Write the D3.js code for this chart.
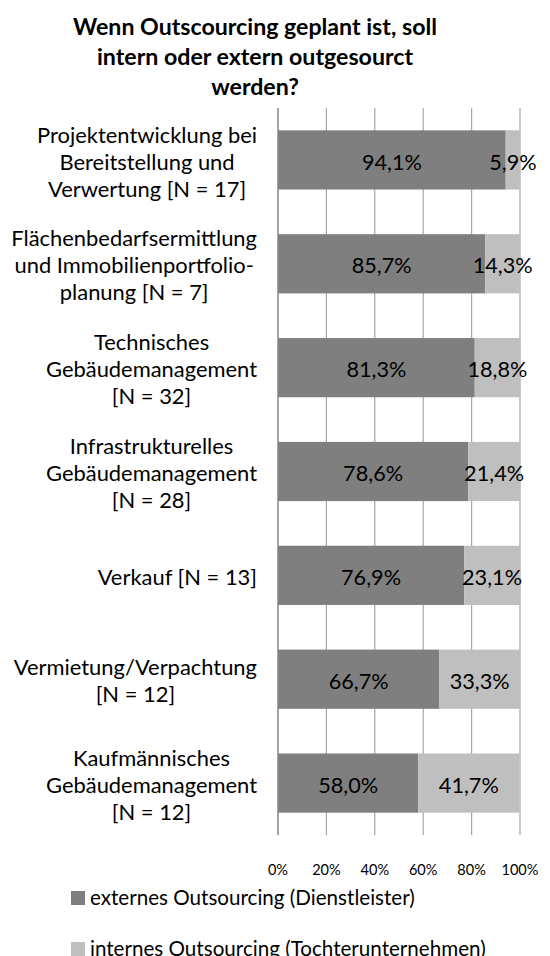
<!DOCTYPE html>
<html>
<head>
<meta charset="utf-8">
<script src="https://cdn.jsdelivr.net/npm/d3@7"></script>
<style>
  html, body { margin: 0; padding: 0; background: #fff; }
  svg { display: block; }
  text { font-family: Lato, "Open Sans", sans-serif; fill: #000; }
</style>
</head>
<body>
<svg id="chart" width="550" height="956"></svg>
<script>
// ---- data ----
const titleLines = ["Wenn Outscourcing geplant ist, soll", "intern oder extern outgesourct", "werden?"];
const categories = [
  "Projektentwicklung bei\nBereitstellung und\nVerwertung [N = 17]",
  "Flächenbedarfsermittlung\nund Immobilienportfolio-\nplanung [N = 7]",
  "Technisches\nGebäudemanagement\n[N = 32]",
  "Infrastrukturelles\nGebäudemanagement\n[N = 28]",
  "Verkauf [N = 13]",
  "Vermietung/Verpachtung\n[N = 12]",
  "Kaufmännisches\nGebäudemanagement\n[N = 12]"
];
const externalValues = [94.1, 85.7, 81.3, 78.6, 76.9, 66.7, 58.0];
const internalValues = [5.9, 14.3, 18.8, 21.4, 23.1, 33.3, 41.7];
const tickValues = [0, 20, 40, 60, 80, 100];
const seriesNames = ["externes Outsourcing (Dienstleister)", "internes Outsourcing (Tochterunternehmen)"];
const seriesColors = ["#7f7f7f", "#bfbfbf"];

// ---- setup ----
const svg = d3.select("#chart");
const fmt = v => v.toFixed(1).replace(".", ",") + "%";

// fit a font size so a reference string reaches a measured width
function fitSize(str, target, weight) {
  const t = svg.append("text").attr("font-size", 100).attr("font-weight", weight || "normal").text(str);
  const w = t.node().getComputedTextLength();
  t.remove();
  return 100 * target / w;
}
const catSize = fitSize("Gebäudemanagement", 211);
const valSize = fitSize("94,1%", 60);
const tickSize = fitSize("100%", 37);
const legSize = fitSize(seriesNames[0], 325);
const titleSize = fitSize(titleLines[0], 364, "bold");

const x = d3.scaleLinear().domain([0, 100]).range([278, 520]);
const y = d3.scaleBand().domain(categories).range([108, 835]).paddingInner(0.43).paddingOuter(0.215);

// ---- title ----
svg.append("g").selectAll("text").data(titleLines).join("text")
  .attr("x", 255).attr("y", (d, i) => 35 + i * 30)
  .attr("text-anchor", "middle")
  .attr("font-weight", "bold")
  .attr("font-size", titleSize)
  .text(d => d);

// ---- gridlines ----
svg.append("g").selectAll("line").data(tickValues.slice(1)).join("line")
  .attr("x1", d => x(d)).attr("x2", d => x(d))
  .attr("y1", 108).attr("y2", 835)
  .attr("stroke", "#a6a6a6").attr("stroke-width", 1.2);

// ---- bars ----
const rows = categories.map((c, i) => ({ c, ext: externalValues[i], int: internalValues[i] }));
const gBars = svg.append("g");
gBars.selectAll("rect.ext").data(rows).join("rect").attr("class", "ext")
  .attr("x", x(0)).attr("y", d => y(d.c))
  .attr("width", d => x(d.ext) - x(0)).attr("height", y.bandwidth())
  .attr("fill", seriesColors[0]);
gBars.selectAll("rect.int").data(rows).join("rect").attr("class", "int")
  .attr("x", d => x(d.ext)).attr("y", d => y(d.c))
  .attr("width", d => x(d.ext + d.int) - x(d.ext)).attr("height", y.bandwidth())
  .attr("fill", seriesColors[1]);

// value labels
const gVals = svg.append("g").attr("font-size", valSize);
gVals.selectAll("text.ext").data(rows).join("text")
  .attr("x", d => (x(0) + x(d.ext)) / 2)
  .attr("y", d => y(d.c) + y.bandwidth() / 2 + 2)
  .attr("dy", "0.35em").attr("text-anchor", "middle")
  .attr("font-size", valSize)
  .text(d => fmt(d.ext));
gVals.selectAll("text.int").data(rows).join("text")
  .attr("x", d => (x(d.ext) + x(d.ext + d.int)) / 2)
  .attr("y", d => y(d.c) + y.bandwidth() / 2 + 2)
  .attr("dy", "0.35em").attr("text-anchor", "middle")
  .attr("font-size", valSize)
  .text(d => fmt(d.int));

// ---- y axis line ----
svg.append("line")
  .attr("x1", x(0)).attr("x2", x(0)).attr("y1", 108).attr("y2", 835)
  .attr("stroke", "#868686").attr("stroke-width", 1.5);

// ---- category labels ----
const gCat = svg.append("g").attr("font-size", catSize);
categories.forEach(c => {
  const lines = c.split("\n");
  const g = gCat.append("g");
  const ts = g.selectAll("text").data(lines).join("text")
    .attr("font-size", catSize)
    .attr("text-anchor", "middle")
    .attr("dy", "0.35em")
    .text(d => d);
  const maxW = d3.max(ts.nodes(), n => n.getComputedTextLength());
  const cx = 257 - maxW / 2;
  const cy = y(c) + y.bandwidth() / 2 + 2;
  const lh = 27;
  ts.attr("x", cx).attr("y", (d, i) => cy + (i - (lines.length - 1) / 2) * lh);
});

// ---- x axis tick labels ----
svg.append("g").selectAll("text").data(tickValues).join("text")
  .attr("x", d => x(d)).attr("y", 870).attr("dy", "0.35em")
  .attr("text-anchor", "middle")
  .attr("font-size", tickSize)
  .text(d => d + "%");

// ---- legend ----
const gLeg = svg.append("g");
seriesNames.forEach((s, i) => {
  const yy = 898 + i * 51;
  gLeg.append("rect").attr("x", 71).attr("y", yy - 7).attr("width", 14).attr("height", 14).attr("fill", seriesColors[i]);
  gLeg.append("text").attr("x", 90).attr("y", yy).attr("dy", "0.35em")
    .attr("font-size", legSize).text(s);
});
</script>
</body>
</html>
